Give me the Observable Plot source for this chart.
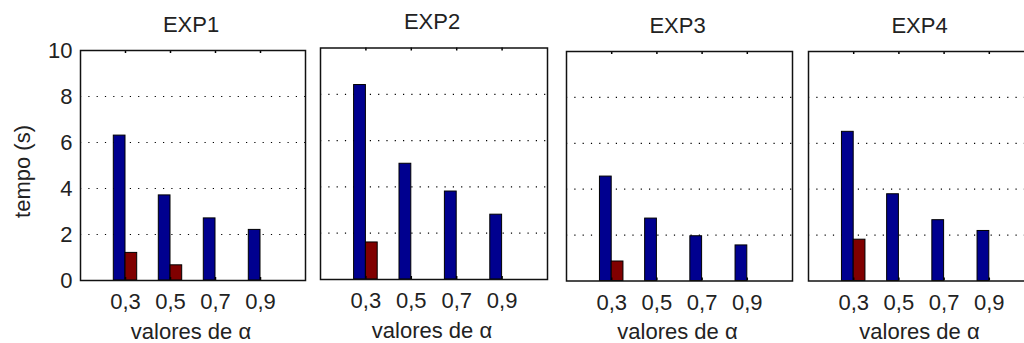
<!DOCTYPE html>
<html>
<head>
<meta charset="utf-8">
<script src="https://cdn.jsdelivr.net/npm/d3@7"></script>
<script src="https://cdn.jsdelivr.net/npm/@observablehq/plot@0.6"></script>
<style>
  html, body { margin: 0; padding: 0; background: #fff; overflow: hidden; }
  #chart { position: relative; width: 1024px; height: 343px; }
  #chart svg { position: absolute; top: 0; }
</style>
</head>
<body>
<div id="chart"></div>
<script>
// Tempo de execução (s) por valor de alfa, em quatro experimentos
const experiments = ["EXP1", "EXP2", "EXP3", "EXP4"];
const alphaLabels = ["0,3", "0,5", "0,7", "0,9"];
const yTicks = [0, 2, 4, 6, 8, 10];
const gridTicks = [2, 4, 6, 8];

const exp1Blue = [6.3, 3.7, 2.7, 2.2];
const exp1Red = [1.2, 0.66, 0, 0];
const exp2Blue = [8.4, 5.0, 3.8, 2.8];
const exp2Red = [1.6, 0, 0, 0];
const exp3Blue = [4.55, 2.72, 1.95, 1.55];
const exp3Red = [0.85, 0, 0, 0];
const exp4Blue = [6.5, 3.78, 2.65, 2.18];
const exp4Red = [1.8, 0, 0, 0];

const blueColor = "#00008f";
const redColor = "#800000";
const textColor = "#222";
const font = "'Liberation Sans', Arial, Helvetica, sans-serif";
const H = 343;
const barW = 0.26;
const positions = alphaLabels.map((_, i) => i + 1);

// frame placement of each panel on the page
const frames = [
  { left: 80, w: 225, top: 50, bottom: 280, showY: true },
  { left: 320, w: 227, top: 47.5, bottom: 279, showY: false },
  { left: 566, w: 226, top: 51, bottom: 280.5, showY: false },
  { left: 808, w: 226, top: 51, bottom: 280.5, showY: false }
];
const blues = [exp1Blue, exp2Blue, exp3Blue, exp4Blue];
const reds = [exp1Red, exp2Red, exp3Red, exp4Red];

function panel(title, blue, red, f) {
  const rows = alphaLabels.map((a, i) => ({ i, blue: blue[i], red: red[i] }));
  const mL = f.showY ? f.left : 8;
  const mR = 8;
  const innerH = f.bottom - f.top;
  const marks = [
    Plot.ruleY(gridTicks, { stroke: "#000", strokeWidth: 1.2, strokeDasharray: "1.2,7.1" }),
    Plot.rectY(rows, {
      x1: (d) => d.i + 1 - barW, x2: (d) => d.i + 1,
      y1: 0, y2: "blue", fill: blueColor, stroke: "#000", strokeWidth: 1
    }),
    Plot.rectY(rows, {
      x1: (d) => d.i + 1, x2: (d) => d.i + 1 + barW,
      y1: 0, y2: "red", fill: redColor, stroke: "#000", strokeWidth: 1
    }),
    Plot.ruleX(positions, { stroke: "#000", strokeWidth: 1.5, insetBottom: innerH - 3 }),
    Plot.ruleX(positions, { stroke: "#000", strokeWidth: 1.5, insetTop: innerH - 3 }),
    Plot.frame({ stroke: "#111", strokeWidth: 1.5 }),
    Plot.text([title], { frameAnchor: "top", dy: -26, dx: -2, lineAnchor: "middle", fontSize: 22 }),
    Plot.text(["valores de α"], {
      frameAnchor: "bottom", dy: 51, dx: -2, lineAnchor: "middle", textAnchor: "middle",
      fontSize: 22, letterSpacing: "0.7px"
    })
  ];
  if (f.showY) {
    marks.push(Plot.text(["tempo (s)"], {
      frameAnchor: "left", rotate: -90, dx: -58, dy: 6, textAnchor: "middle", lineAnchor: "middle",
      fontSize: 22, letterSpacing: "0.7px"
    }));
  }
  const svg = Plot.plot({
    width: mL + f.w + mR,
    height: H,
    marginLeft: mL,
    marginRight: mR,
    marginTop: f.top,
    marginBottom: H - f.bottom,
    style: { fontFamily: font, fontSize: "22px", color: textColor, background: "transparent", overflow: "visible" },
    x: {
      domain: [0, alphaLabels.length + 1],
      ticks: positions,
      tickFormat: (d) => alphaLabels[d - 1],
      tickSize: 0,
      tickPadding: 13,
      label: null
    },
    y: {
      domain: [0, 10],
      ticks: yTicks,
      tickSize: 0,
      tickPadding: 8,
      label: null,
      axis: f.showY ? "left" : null
    },
    marks
  });
  svg.style.left = (f.left - mL) + "px";
  return svg;
}

const chart = document.getElementById("chart");
experiments.forEach((name, k) => {
  chart.appendChild(panel(name, blues[k], reds[k], frames[k]));
});
</script>
</body>
</html>
